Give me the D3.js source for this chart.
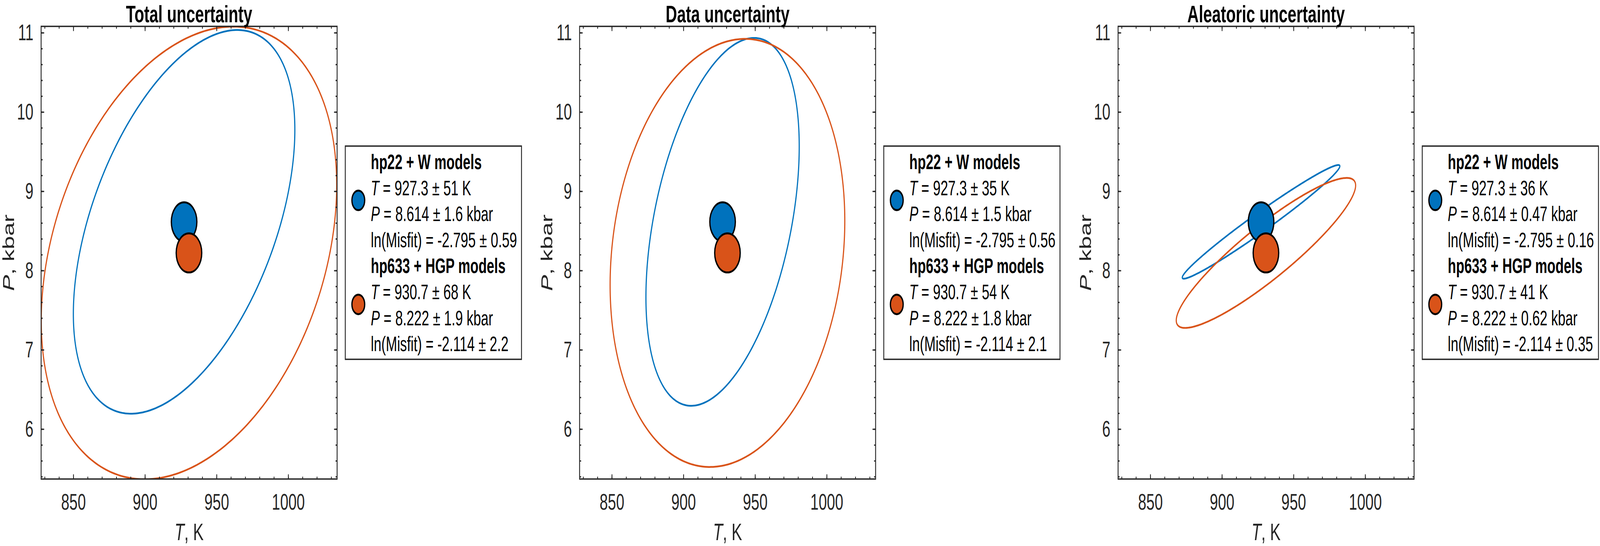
<!DOCTYPE html>
<html>
<head>
<meta charset="utf-8">
<script src="https://cdn.jsdelivr.net/npm/d3@7/dist/d3.min.js"></script>
<style>
	html, body { margin: 0; padding: 0; background: #fff; overflow: hidden; }
	svg text { font-family: 'Liberation Sans', Arial, Helvetica, sans-serif; }
</style>
</head>
<body>
<div id="chart"></div>
<script>
// panels and models
const panelTitles = ['Total uncertainty', 'Data uncertainty', 'Aleatoric uncertainty']
const modelNames = ['hp22 + W models', 'hp633 + HGP models']
const modelColors = ['#0072BD', '#D95319']

// best fit values (same in all panels)
const meanT = [927.3, 930.7]
const meanP = [8.614, 8.222]
const meanMisfit = [-2.795, -2.114]

// legend uncertainties, per panel [hp22, hp633]
const sdT = [['51', '68'], ['35', '54'], ['36', '41']]
const sdP = [['1.6', '1.9'], ['1.5', '1.8'], ['0.47', '0.62']]
const sdMisfit = [['0.59', '2.2'], ['0.56', '2.1'], ['0.16', '0.35']]

// confidence ellipses: half width in T, half height in P, correlation
const ellHalfT = [[77.3, 103.1], [53.5, 81.9], [55, 62.6]]
const ellHalfP = [[2.42, 2.855], [2.32, 2.70], [0.717, 0.946]]
const ellRho = [[0.48, 0.30], [0.41, 0.15], [0.98, 0.90]]

// axes
const xDomain = [827.5, 1034.1]
const yDomain = [5.37, 11.08]
const xTicks = [850, 900, 950, 1000]
const yTicks = [6, 7, 8, 9, 10, 11]
const xMinorTicks = d3.range(83, 104).map(d => d * 10)
const yMinorTicks = d3.range(27, 56).map(d => d / 5)

// figure is laid out at 6265 x 1398 and fitted to the window
const W = 6265
const H = 1398

class EllipsePanel {
	constructor(params) {
		this.attrs = Object.assign(
			{
				svg: null,
				index: 0,
				left: 0,
				top: 67.5,
				size: 1159,
				axisColor: '#262626',
				tickFont: 58,
				labelFont: 62,
				titleFont: 62,
				legendFont: 53,
				legend: { dx: 32, top: 374, width: 690, height: 546 },
			},
			params
		)
		this.main()
	}

	main() {
		const { attrs } = this
		const i = attrs.index

		this.x = d3.scaleLinear().domain(xDomain).range([0, attrs.size])
		this.y = d3.scaleLinear().domain(yDomain).range([attrs.size, 0])

		this.g = attrs.svg.append('g')
			.attr('transform', `translate(${attrs.left},${attrs.top})`)

		this.g.append('clipPath')
			.attr('id', 'clip-' + i)
			.append('rect')
			.attr('width', attrs.size)
			.attr('height', attrs.size)

		this.drawEllipses()
		this.drawMarkers()
		this.drawAxes()
		this.drawLegend()
	}

	drawEllipses() {
		const { attrs } = this
		const i = attrs.index
		const angles = d3.range(0, 361).map(d => d * Math.PI / 180)

		const line = d3.line()
			.x(d => this.x(d[0]))
			.y(d => this.y(d[1]))

		const layer = this.g.append('g').attr('clip-path', `url(#clip-${i})`)

		modelNames.forEach((name, m) => {
			const rho = ellRho[i][m]
			const pts = angles.map(t => [
				meanT[m] + ellHalfT[i][m] * Math.cos(t),
				meanP[m] + ellHalfP[i][m] * (rho * Math.cos(t) + Math.sqrt(1 - rho * rho) * Math.sin(t)),
			])
			layer.append('path')
				.attr('d', line(pts))
				.attr('fill', 'none')
				.attr('stroke', modelColors[m])
				.attr('stroke-width', 4.5)
		})
	}

	drawMarkers() {
		this.g.selectAll('circle.best')
			.data(modelNames)
			.join('circle')
			.attr('class', 'best')
			.attr('cx', (d, m) => this.x(meanT[m]))
			.attr('cy', (d, m) => this.y(meanP[m]))
			.attr('r', 50)
			.attr('fill', (d, m) => modelColors[m])
			.attr('stroke', '#000')
			.attr('stroke-width', 5)
	}

	drawAxes() {
		const { attrs } = this
		const s = attrs.size
		const col = attrs.axisColor
		const fmt = d3.format('d')

		const styleAxis = (sel, showText) => {
			sel.select('.domain').remove()
			sel.selectAll('line').attr('stroke', col).attr('stroke-width', 3.2)
			sel.selectAll('text')
				.attr('fill', col)
				.attr('font-size', attrs.tickFont)
				.style('display', showText ? null : 'none')
		}

		// major ticks all four sides, pointing inwards
		this.g.append('g')
			.attr('transform', `translate(0,${s})`)
			.call(d3.axisBottom(this.x).tickValues(xTicks).tickFormat(fmt).tickSizeInner(-12).tickSizeOuter(0).tickPadding(37))
			.call(g => styleAxis(g, true))
		this.g.append('g')
			.call(d3.axisTop(this.x).tickValues(xTicks).tickSizeInner(-12).tickSizeOuter(0))
			.call(g => styleAxis(g, false))
		this.g.append('g')
			.call(d3.axisLeft(this.y).tickValues(yTicks).tickFormat(fmt).tickSizeInner(-12).tickSizeOuter(0).tickPadding(30))
			.call(g => styleAxis(g, true))
		this.g.append('g')
			.attr('transform', `translate(${s},0)`)
			.call(d3.axisRight(this.y).tickValues(yTicks).tickSizeInner(-12).tickSizeOuter(0))
			.call(g => styleAxis(g, false))

		// minor ticks
		const minor = [
			[d3.axisBottom(this.x).tickValues(xMinorTicks), `translate(0,${s})`],
			[d3.axisTop(this.x).tickValues(xMinorTicks), null],
			[d3.axisLeft(this.y).tickValues(yMinorTicks), null],
			[d3.axisRight(this.y).tickValues(yMinorTicks), `translate(${s},0)`],
		]
		minor.forEach(([ax, tr]) => {
			this.g.append('g')
				.attr('transform', tr)
				.call(ax.tickSizeInner(-6).tickSizeOuter(0).tickFormat(''))
				.call(g => styleAxis(g, false))
		})

		// box
		this.g.append('rect')
			.attr('width', s)
			.attr('height', s)
			.attr('fill', 'none')
			.attr('stroke', col)
			.attr('stroke-width', 3.5)

		// labels
		const xl = this.g.append('text')
			.attr('x', s / 2)
			.attr('y', s + 157)
			.attr('text-anchor', 'middle')
			.attr('font-size', attrs.labelFont)
			.attr('fill', col)
		xl.append('tspan').attr('font-style', 'italic').text('T')
		xl.append('tspan').text(', K')

		const yl = this.g.append('text')
			.attr('transform', `translate(-106,${s / 2}) rotate(-90)`)
			.attr('text-anchor', 'middle')
			.attr('font-size', attrs.labelFont)
			.attr('fill', col)
		yl.append('tspan').attr('font-style', 'italic').text('P')
		yl.append('tspan').text(', kbar')

		// title sits just above the box, kept inside the top edge
		this.g.append('text')
			.attr('x', s / 2)
			.attr('y', 57 - attrs.top)
			.attr('text-anchor', 'middle')
			.attr('font-size', attrs.titleFont)
			.attr('font-weight', 'bold')
			.attr('fill', '#000')
			.text(panelTitles[attrs.index])
	}

	drawLegend() {
		const { attrs } = this
		const i = attrs.index
		const L = attrs.legend
		const lx = attrs.size + L.dx
		const ly = L.top - attrs.top
		const lineH = 66.6

		const lg = this.g.append('g').attr('transform', `translate(${lx},${ly})`)

		lg.append('rect')
			.attr('width', L.width)
			.attr('height', L.height)
			.attr('fill', '#fff')
			.attr('stroke', attrs.axisColor)
			.attr('stroke-width', 3.5)

		modelNames.forEach((name, m) => {
			const rows = [
				[['', name]],
				[['i', 'T'], ['', ` = ${meanT[m].toFixed(1)} ± ${sdT[i][m]} K`]],
				[['i', 'P'], ['', ` = ${meanP[m].toFixed(3)} ± ${sdP[i][m]} kbar`]],
				[['', `ln(Misfit) = ${meanMisfit[m].toFixed(3)} ± ${sdMisfit[i][m]}`]],
			]

			lg.append('circle')
				.attr('cx', 51)
				.attr('cy', 139 + m * 4 * lineH)
				.attr('r', 25)
				.attr('fill', modelColors[m])
				.attr('stroke', '#000')
				.attr('stroke-width', 5)

			rows.forEach((parts, r) => {
				const t = lg.append('text')
					.attr('x', 100)
					.attr('y', 59 + (m * 4 + r) * lineH)
					.attr('font-size', attrs.legendFont)
					.attr('fill', '#000')
					.attr('font-weight', r === 0 ? 'bold' : null)
				parts.forEach(([style, str]) => {
					t.append('tspan')
						.attr('font-style', style === 'i' ? 'italic' : null)
						.text(str)
				})
			})
		})
	}
}

// the window may be narrower than the figure, so stretch the figure onto it
const svg = d3.select('#chart')
	.append('svg')
	.attr('viewBox', `0 0 ${W} ${H}`)
	.attr('preserveAspectRatio', 'none')
	.style('width', '100vw')
	.style('height', '100vh')
	.style('display', 'block')

const panelLefts = [161, 2269.5, 4378]

panelTitles.forEach((title, i) => {
	new EllipsePanel({ svg, index: i, left: panelLefts[i] })
})
</script>
</body>
</html>
